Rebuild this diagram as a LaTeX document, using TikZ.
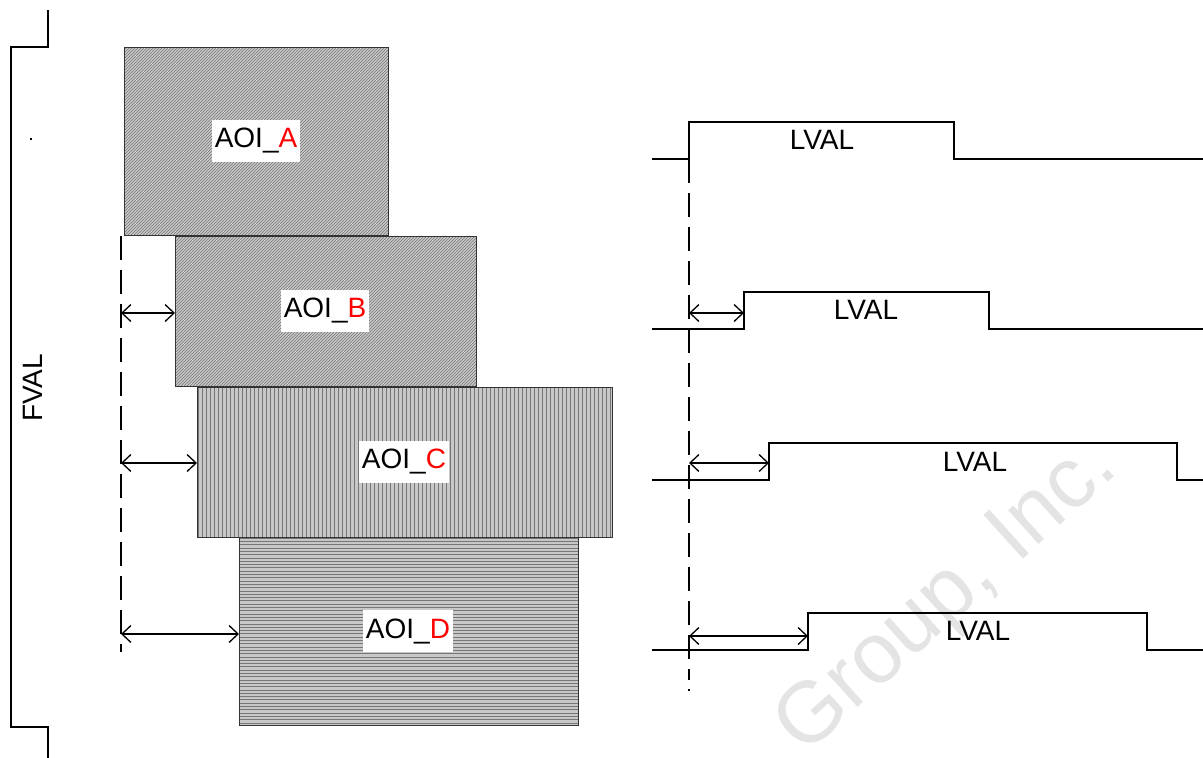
\documentclass[tikz,border=0pt]{standalone}
\usepackage{fontspec}
\setmainfont{Liberation Sans}
\usetikzlibrary{arrows.meta}
\definecolor{hatchbg}{RGB}{200,200,200}
\definecolor{hatchfg}{RGB}{118,118,118}
\definecolor{wm}{RGB}{228,228,228}
\tikzset{
  every node/.style={font=\fontsize{28}{32}\selectfont},
  aoibox/.style={draw=black!80, line width=0.9pt, inner sep=0pt, anchor=north west},
  aoilabel/.style={fill=white, inner xsep=3pt, minimum height=42pt},
  hatch/.style={draw=hatchfg, line width=0.6pt},
  sig/.style={draw=black, line width=1.6pt},
  bracket/.style={draw=black, line width=1.8pt},
  dashline/.style={draw=black, line width=1.3pt, dash pattern=on 24pt off 10pt},
  dim/.style={draw=black, line width=1.3pt, {Straight Barb[length=9pt,width=17pt]}-{Straight Barb[length=9pt,width=17pt]}},
}
\begin{document}
\begin{tikzpicture}[x=1pt,y=-1pt]
\useasboundingbox (0,0) rectangle (1203,758);
\clip (0,0) rectangle (1203,758);

% watermark
\node[wm, rotate=42, font=\fontsize{86}{90}\selectfont] (wmark) at (948,598) {Group, Inc.};

% ---- AOI_A (diagonal hatch)
\fill[hatchbg] (124,47) rectangle (388,235);
\begin{scope}
\clip (124,47) rectangle (388,235);
\foreach \k in {0,3,...,460} \draw[hatch] (124+\k-190,237) -- ++(192,-192);
\end{scope}
\node[aoibox, minimum width=264pt, minimum height=188pt] (A) at (124,47) {};

% ---- AOI_B (diagonal hatch)
\fill[hatchbg] (175,236) rectangle (476,386);
\begin{scope}
\clip (175,236) rectangle (476,386);
\foreach \k in {0,3,...,460} \draw[hatch] (175+\k-152,388) -- ++(154,-154);
\end{scope}
\node[aoibox, minimum width=301pt, minimum height=150pt] (B) at (175,236) {};

% ---- AOI_C (vertical lines)
\fill[hatchbg] (197,387) rectangle (612,537);
\begin{scope}
\clip (197,387) rectangle (612,537);
\foreach \k in {1,5,...,415} \draw[hatch] (197+\k,387) -- ++(0,150);
\end{scope}
\node[aoibox, minimum width=415pt, minimum height=150pt] (C) at (197,387) {};

% ---- AOI_D (horizontal lines)
\fill[hatchbg] (239,537) rectangle (578,725);
\begin{scope}
\clip (239,537) rectangle (578,725);
\foreach \k in {1,4.3,...,188} \draw[hatch] (239,537+\k) -- ++(339,0);
\end{scope}
\node[aoibox, minimum width=339pt, minimum height=188pt] (D) at (239,537) {};

% labels
\node[aoilabel] (la) at (256,141) {AOI\_\textcolor{red}{A}};
\node[aoilabel] (lb) at (325,311) {AOI\_\textcolor{red}{B}};
\node[aoilabel] (lc) at (404,462) {AOI\_\textcolor{red}{C}};
\node[aoilabel] (ld) at (408,631) {AOI\_\textcolor{red}{D}};

% left dashed reference line and offsets
\coordinate (dlTop) at (121,236);
\coordinate (dlBot) at (121,652);
\draw[dashline] (dlTop) -- (dlBot);
\coordinate (db) at (121,313);
\coordinate (dc) at (121,463);
\coordinate (dd) at (121,634);
\draw[dim] (db) -- (db -| B.west);
\draw[dim] (dc) -- (dc -| C.west);
\draw[dim] (dd) -- (dd -| D.west);

% FVAL bracket
\coordinate (f1) at (48,10);
\coordinate (f2) at (48,47);
\coordinate (f3) at (11,47);
\coordinate (f4) at (11,727);
\coordinate (f5) at (48,727);
\coordinate (f6) at (48,760);
\draw[bracket] (f1) -- (f2) -- (f3) -- (f4) -- (f5) -- (f6);
\node[rotate=90] (fval) at (33,388) {FVAL};
\fill (30,138) rectangle (32,140);

% right dashed reference line
\coordinate (rlTop) at (689,159);
\coordinate (rlBot) at (689,680);
\draw[dashline] (rlTop) -- (rlBot);
\fill (688,689) rectangle (690,691);

% LVAL 1
\coordinate (s1a) at (652,159);
\coordinate (s1b) at (689,159);
\coordinate (s1c) at (689,122);
\coordinate (s1d) at (954,122);
\coordinate (s1e) at (954,159);
\coordinate (s1f) at (1205,159);
\draw[sig] (s1a) -- (s1b) -- (s1c) -- (s1d) -- (s1e) -- (s1f);
\node (l1) at (822,140) {LVAL};

% LVAL 2
\coordinate (s2a) at (652,329);
\coordinate (s2b) at (744,329);
\coordinate (s2c) at (744,292);
\coordinate (s2d) at (989,292);
\coordinate (s2e) at (989,329);
\coordinate (s2f) at (1205,329);
\draw[sig] (s2a) -- (s2b) -- (s2c) -- (s2d) -- (s2e) -- (s2f);
\node (l2) at (866,310) {LVAL};
\coordinate (r2) at (689,313);
\draw[dim] (r2) -- (r2 -| s2b);

% LVAL 3
\coordinate (s3a) at (652,480);
\coordinate (s3b) at (769,480);
\coordinate (s3c) at (769,443);
\coordinate (s3d) at (1177,443);
\coordinate (s3e) at (1177,480);
\coordinate (s3f) at (1205,480);
\draw[sig] (s3a) -- (s3b) -- (s3c) -- (s3d) -- (s3e) -- (s3f);
\node (l3) at (975,462) {LVAL};
\coordinate (r3) at (689,463);
\draw[dim] (r3) -- (r3 -| s3b);

% LVAL 4
\coordinate (s4a) at (652,650);
\coordinate (s4b) at (808,650);
\coordinate (s4c) at (808,613);
\coordinate (s4d) at (1147,613);
\coordinate (s4e) at (1147,650);
\coordinate (s4f) at (1205,650);
\draw[sig] (s4a) -- (s4b) -- (s4c) -- (s4d) -- (s4e) -- (s4f);
\node (l4) at (978,631) {LVAL};
\coordinate (r4) at (689,636);
\draw[dim] (r4) -- (r4 -| s4b);
\end{tikzpicture}
\end{document}
